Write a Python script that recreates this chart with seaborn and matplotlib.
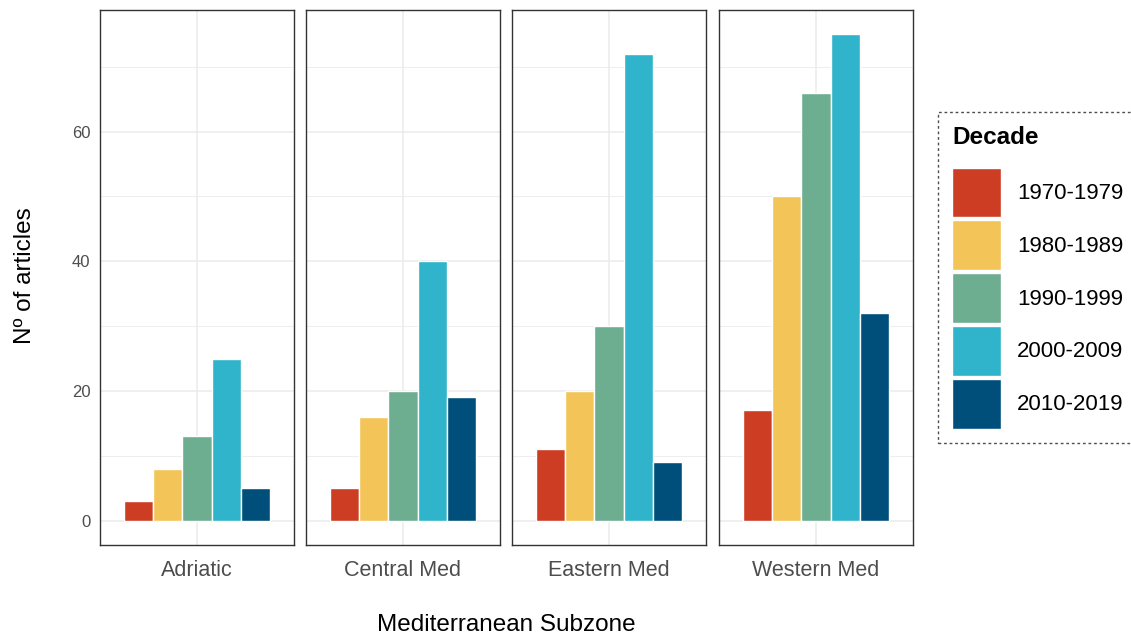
import pandas as pd
import matplotlib.pyplot as plt
import seaborn as sns
from matplotlib.patches import Patch

# data
zones = ["Adriatic", "Central Med", "Eastern Med", "Western Med"]
decades = ["1970-1979", "1980-1989", "1990-1999", "2000-2009", "2010-2019"]
adriatic = [3, 8, 13, 25, 5]
central_med = [5, 16, 20, 40, 19]
eastern_med = [11, 20, 30, 72, 9]
western_med = [17, 50, 66, 75, 32]
colors = ["#CC3D24", "#F3C558", "#6DAE90", "#30B4CC", "#004F7A"]

counts = [adriatic, central_med, eastern_med, western_med]
rows = []
for zone, vals in zip(zones, counts):
    for dec, v in zip(decades, vals):
        rows.append({"zone": zone, "decade": dec, "n": v})
df = pd.DataFrame(rows)

sns.set_style("white")
plt.rcParams["font.family"] = ["Liberation Sans", "DejaVu Sans"]
plt.rcParams["text.color"] = "black"

W, H = 1131, 638
fig = plt.figure(figsize=(W / 100, H / 100), dpi=100)

panel_left = [100, 306, 512, 719]
panel_w = 194
top, bottom = 10, 545
palette = dict(zip(decades, colors))

for i, zone in enumerate(zones):
    ax = fig.add_axes([panel_left[i] / W, (H - bottom) / H,
                       panel_w / W, (bottom - top) / H])
    sub = df[df["zone"] == zone]
    sns.barplot(data=sub, x="zone", y="n", hue="decade", hue_order=decades,
                palette=palette, saturation=1, width=0.9, edgecolor="white",
                linewidth=1, legend=False, ax=ax)
    ax.set_xlim(-0.6, 0.6)
    ax.set_ylim(-3.75, 78.75)
    ax.set_yticks([0, 20, 40, 60])
    ax.set_yticks([10, 30, 50, 70], minor=True)
    ax.set_axisbelow(True)
    ax.grid(which="major", color="#EBEBEB", linewidth=1.1)
    ax.grid(which="minor", axis="y", color="#EBEBEB", linewidth=0.6)
    for s in ax.spines.values():
        s.set_color("#333333")
        s.set_linewidth(1.0)
    ax.tick_params(axis="x", length=4, color="#333333", labelsize=15.5,
                   labelcolor="#4D4D4D", pad=6.5)
    ax.tick_params(axis="y", which="minor", length=0)
    if i == 0:
        ax.tick_params(axis="y", length=4, color="#333333", labelsize=12,
                       labelcolor="#4D4D4D", pad=3)
    else:
        ax.tick_params(axis="y", length=0, labelleft=False)
    ax.set_xlabel("")
    ax.set_ylabel("")

fig.text(25 / W, 1 - 276 / H, "Nº of articles", rotation=90,
         ha="center", va="center", fontsize=17.5)
fig.text(506 / W, 1 - 625 / H, "Mediterranean Subzone",
         ha="center", va="center", fontsize=17.5)

handles = [Patch(facecolor=c, edgecolor="white", linewidth=1) for c in colors]
leg = fig.legend(handles, decades, title="Decade", loc="upper left",
                 bbox_to_anchor=(938 / W, 1 - 112 / H), borderaxespad=0,
                 fontsize=16, title_fontsize=17.5, handlelength=2.2,
                 handleheight=3.08, labelspacing=0.13, handletextpad=0.72,
                 borderpad=0.65, alignment="left", fancybox=False,
                 frameon=True)
leg.get_title().set_fontweight("bold")
for t in leg.get_texts():
    t.set_color("black")
leg._legend_box.sep = 13
frame = leg.get_frame()
frame.set_edgecolor("#222222")
frame.set_linestyle((0, (2, 2)))
frame.set_linewidth(1)

fig.savefig("out.png", dpi=100)
